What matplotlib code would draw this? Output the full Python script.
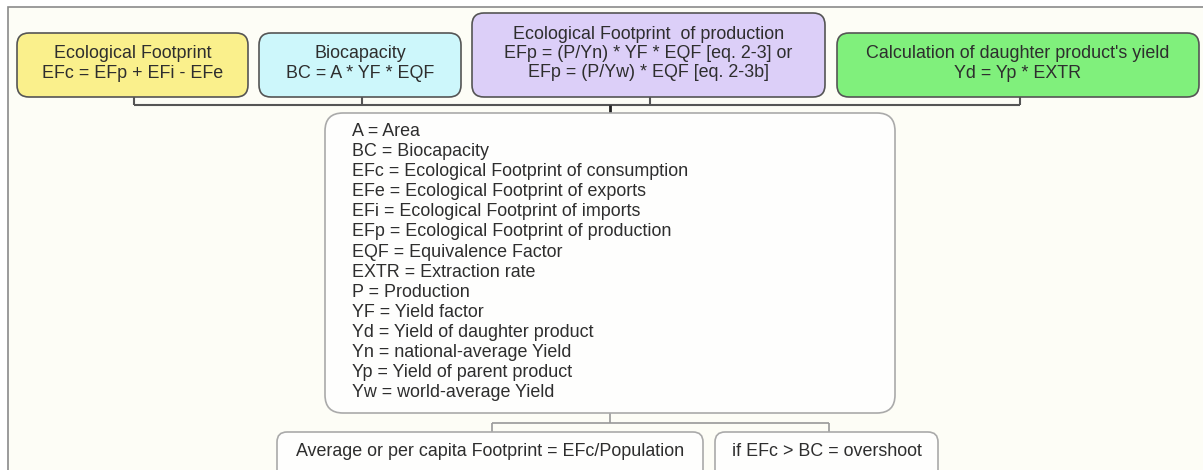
import matplotlib
matplotlib.use("Agg")
import matplotlib.pyplot as plt
from matplotlib.patches import FancyBboxPatch, Rectangle

plt.rcParams['font.family'] = ['Liberation Sans', 'DejaVu Sans']

# top row formula boxes
top_titles = [
    "Ecological Footprint\nEFc = EFp + EFi - EFe",
    "Biocapacity\nBC = A * YF * EQF",
    "Ecological Footprint  of production\nEFp = (P/Yn) * YF * EQF [eq. 2-3] or\nEFp = (P/Yw) * EQF [eq. 2-3b]",
    "Calculation of daughter product's yield\nYd = Yp * EXTR",
]
top_colors = ["#faf08c", "#cdf7fb", "#dccff8", "#80f07c"]

# list of abbreviations
legend_lines = [
    "A = Area",
    "BC = Biocapacity",
    "EFc = Ecological Footprint of consumption",
    "EFe = Ecological Footprint of exports",
    "EFi = Ecological Footprint of imports",
    "EFp = Ecological Footprint of production",
    "EQF = Equivalence Factor",
    "EXTR = Extraction rate",
    "P = Production",
    "YF = Yield factor",
    "Yd = Yield of daughter product",
    "Yn = national-average Yield",
    "Yp = Yield of parent product",
    "Yw = world-average Yield",
]

bottom_titles = [
    "Average or per capita Footprint = EFc/Population",
    "if EFc > BC = overshoot",
]

W, H = 1203, 470
fig = plt.figure(figsize=(W / 100, H / 100), dpi=100)
ax = fig.add_axes([0, 0, 1, 1])
ax.set_xlim(0, W)
ax.set_ylim(H, 0)
ax.axis('off')

txt_col = "#2e2e2e"
fs = 12.9

# background frame
ax.add_patch(Rectangle((8, 7), W, H, facecolor="#fdfdf6", edgecolor="#8a8a8a", lw=1.2))


def rbox(x0, y0, x1, y1, fc, ec, lw=1.2, r=12):
    ax.add_patch(FancyBboxPatch((x0, y0), x1 - x0, y1 - y0,
                                boxstyle="round,pad=0,rounding_size=%d" % r,
                                facecolor=fc, edgecolor=ec, lw=lw, zorder=3))


def line(xs, ys, c="#555555", lw=1.5):
    ax.plot(xs, ys, color=c, lw=lw, zorder=2, solid_capstyle='butt')


# top boxes
top_pos = [(17, 33, 248, 97), (259, 33, 461, 97), (472, 13, 825, 97), (837, 33, 1199, 97)]
for (x0, y0, x1, y1), t, c in zip(top_pos, top_titles, top_colors):
    rbox(x0, y0, x1, y1, c, "#555555")
    ax.text((x0 + x1) / 2, (y0 + y1) / 2 - 1.5, t, ha='center', va='center',
            fontsize=fs, color=txt_col, linespacing=1.18, zorder=4)

# connectors from top boxes
bus_y = 105
for xc in [134, 362, 650, 1020]:
    line([xc, xc], [97, bus_y])
line([134, 1020], [bus_y, bus_y])
line([610, 610], [bus_y, 113], c="#222222", lw=2)

# abbreviations box
rbox(325, 113, 895, 413, "#fefefd", "#aaaaaa", lw=1.2, r=18)
for i, s in enumerate(legend_lines):
    ax.text(352, 131.5 + i * 20.1, s, ha='left', va='center', fontsize=fs,
            color=txt_col, zorder=4)

# bottom connectors
line([610, 610], [413, 423], c="#999999", lw=1.2)
line([492, 829], [423, 423], c="#999999", lw=1.2)
line([492, 492], [423, 432], c="#999999", lw=1.2)
line([829, 829], [423, 432], c="#999999", lw=1.2)

bottom_pos = [(277, 432, 703, 485), (715, 432, 938, 485)]
for (x0, y0, x1, y1), t in zip(bottom_pos, bottom_titles):
    rbox(x0, y0, x1, y1, "#fefefd", "#aaaaaa", r=10)
    ax.text((x0 + x1) / 2, 451, t, ha='center', va='center', fontsize=fs,
            color=txt_col, zorder=4)

fig.savefig("out.png", dpi=100, facecolor="white")
